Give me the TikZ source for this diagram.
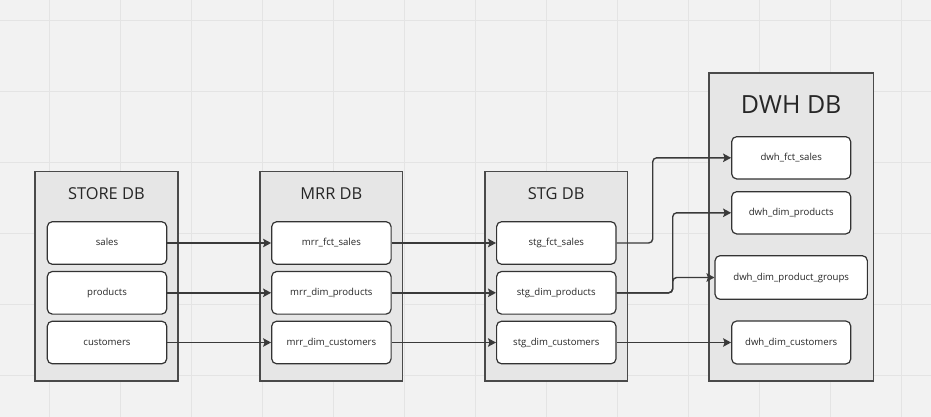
\documentclass[tikz,border=0pt]{standalone}
\usepackage{fontspec}
\setmainfont{Open Sans}
\usetikzlibrary{arrows.meta}
\definecolor{bgc}{HTML}{F2F2F2}
\definecolor{gridc}{HTML}{E4E4E4}
\definecolor{contfill}{HTML}{E6E6E6}
\definecolor{contdraw}{HTML}{4A4A4A}
\definecolor{boxdraw}{HTML}{333333}
\definecolor{txt}{HTML}{262626}
\definecolor{linec}{HTML}{3A3A3A}
\tikzset{
  container/.style={draw=contdraw, fill=contfill, line width=1.6pt, minimum width=142.7pt, minimum height=209.3pt, inner sep=0pt},
  tbl/.style={draw=boxdraw, fill=white, line width=1.2pt, rounded corners=5pt, minimum width=119.4pt, minimum height=42.6pt, inner sep=0pt, text height=6.6pt, text depth=1.6pt, font=\fontsize{9.6}{11}\selectfont, text=txt},
  dbtitle/.style={font=\fontsize{16.4}{19}\selectfont, text=txt, inner sep=0pt},
  conn/.style={draw=linec, line width=1.4pt, rounded corners=4pt, -{Stealth[length=8pt,width=8.5pt,inset=1.5pt]}}
}
\begin{document}
\begin{tikzpicture}[x=1pt,y=-1pt]
\useasboundingbox (0,0) rectangle (931,417);
\fill[bgc] (0,0) rectangle (931,417);
\foreach \i in {0,...,12} { \draw[gridc, line width=1pt] ({49.3+71.03*\i},0) -- ({49.3+71.03*\i},417); }
\foreach \j in {0,...,5} { \draw[gridc, line width=1pt] (0,{20.3+71*\j}) -- (931,{20.3+71*\j}); }

% containers
\node[container] (store) at (106.4,276.3) {};
\node[container] (mrr) at (331.3,276.3) {};
\node[container] (stg) at (556.2,276.3) {};
\node[container, minimum width=164.3pt, minimum height=308.3pt] (dwh) at (791.2,226.9) {};

\node[dbtitle] (t1) at (106.4,194) {STORE DB};
\node[dbtitle] (t2) at (331.3,194) {MRR DB};
\node[dbtitle] (t3) at (556.2,194) {STG DB};
\node[dbtitle, font=\fontsize{25}{30}\selectfont] (t4) at (791.2,105) {DWH DB};

% store
\node[tbl] (a1) at (107,243) {sales};
\node[tbl] (a2) at (107,292.8) {products};
\node[tbl] (a3) at (107,342.5) {customers};
% mrr
\node[tbl] (b1) at (331.4,243) {mrr\_fct\_sales};
\node[tbl] (b2) at (331.4,292.8) {mrr\_dim\_products};
\node[tbl] (b3) at (331.4,342.5) {mrr\_dim\_customers};
% stg
\node[tbl] (c1) at (556.3,243) {stg\_fct\_sales};
\node[tbl] (c2) at (556.3,292.8) {stg\_dim\_products};
\node[tbl] (c3) at (556.3,342.5) {stg\_dim\_customers};
% dwh
\node[tbl, minimum width=119pt, minimum height=42.3pt] (d1) at (791.2,157.8) {dwh\_fct\_sales};
\node[tbl, minimum width=119pt, minimum height=42.3pt] (d2) at (791.2,212.8) {dwh\_dim\_products};
\node[tbl, minimum width=152.3pt, minimum height=43.6pt] (d3) at (791.2,277.5) {dwh\_dim\_product\_groups};
\node[tbl, minimum width=119pt, minimum height=43pt] (d4) at (791.2,342.5) {dwh\_dim\_customers};

\coordinate (j1) at (652.7,0);
\coordinate (j2) at (672.7,0);

\draw[conn] (a1.east) -- (b1.west);
\draw[conn] (a2.east) -- (b2.west);
\draw[conn] (a3.east) -- (b3.west);
\draw[conn] (b1.east) -- (c1.west);
\draw[conn] (b2.east) -- (c2.west);
\draw[conn] (b3.east) -- (c3.west);
\draw[conn] (c1.east) -- (c1.east -| j1) |- (d1.west);
\draw[conn] (c2.east) -- (c2.east -| j2) |- (d2.west);
\draw[conn] (c2.east) -- (c2.east -| j2) |- (d3.west);
\draw[conn] (c3.east) -- (d4.west);
\end{tikzpicture}
\end{document}
